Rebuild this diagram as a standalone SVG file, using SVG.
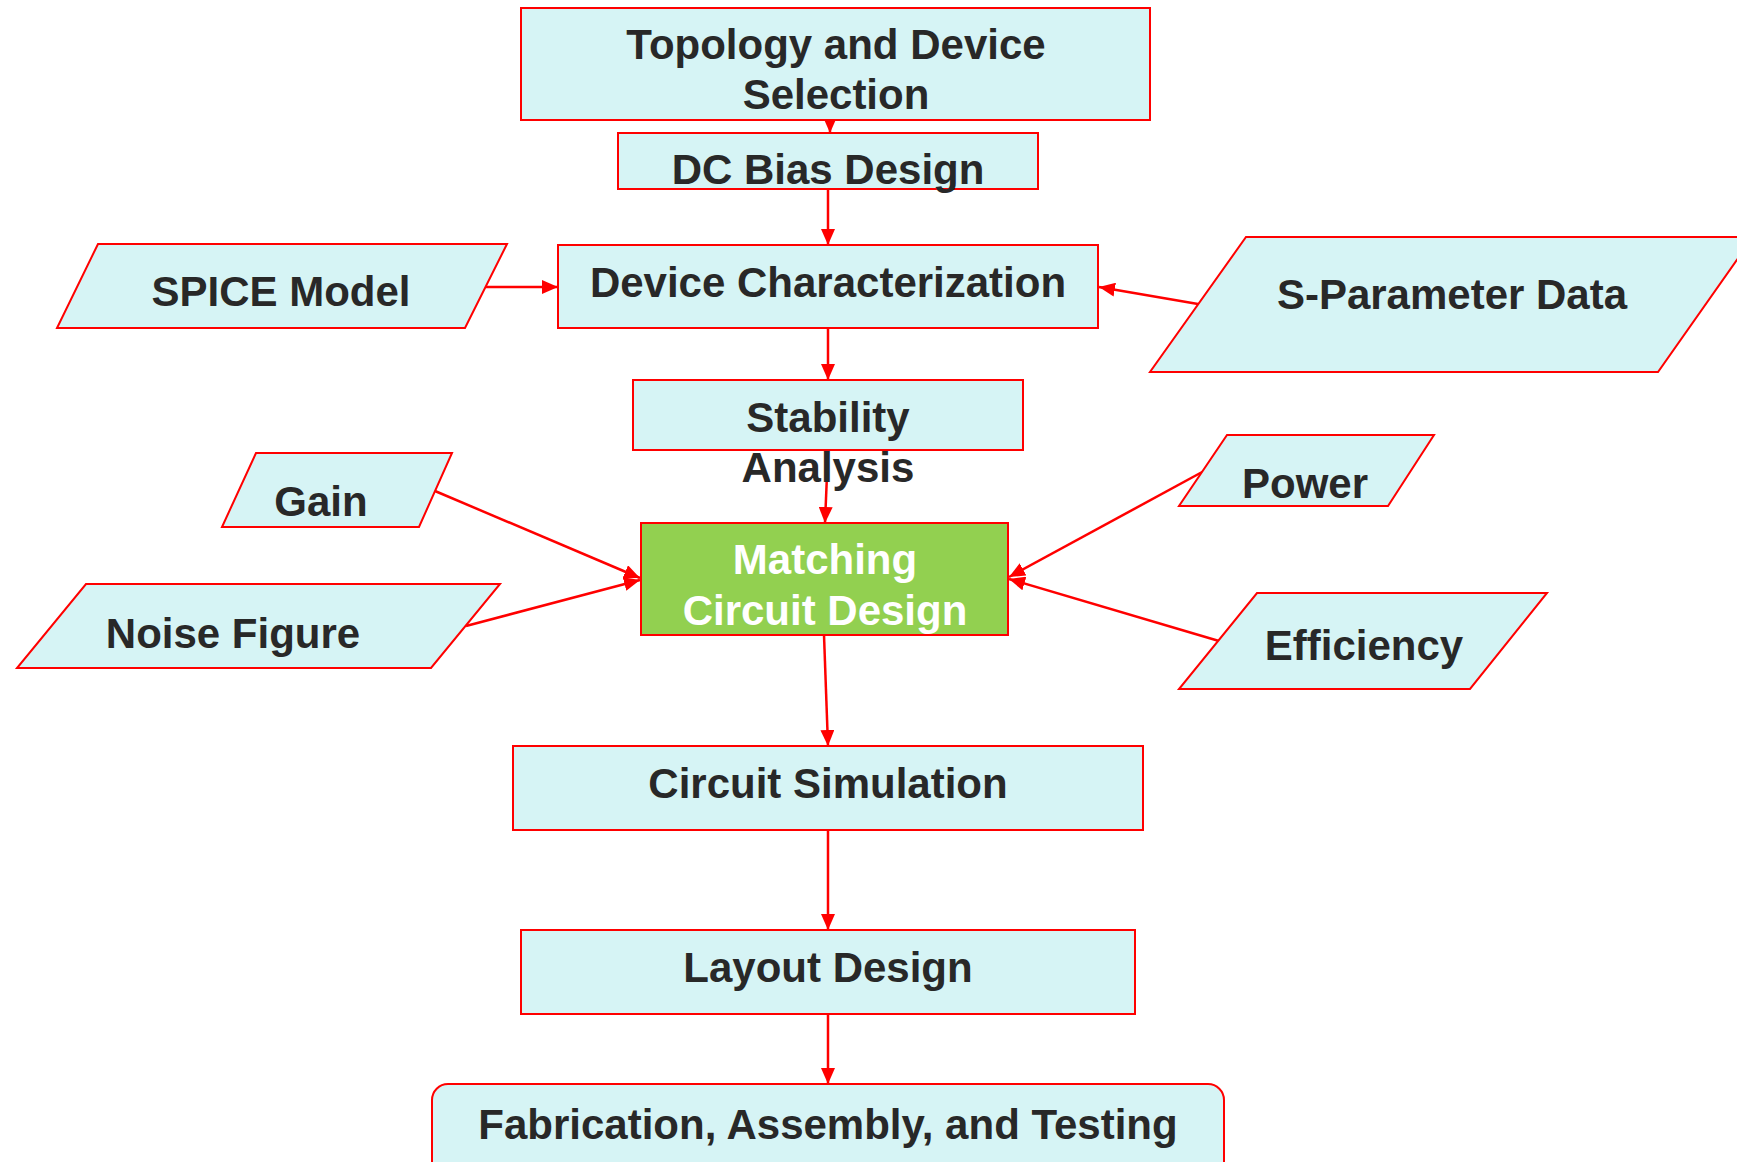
<svg xmlns="http://www.w3.org/2000/svg" width="1737" height="1162" viewBox="0 0 1737 1162">
<style>
.box{fill:#d6f4f5;stroke:#ff0000;stroke-width:2}
.green{fill:#92d050;stroke:#ff0000;stroke-width:2}
.t{font-family:"Liberation Sans",Arial,sans-serif;font-weight:bold;font-size:42px;fill:#282828;text-anchor:middle}
.w{fill:#ffffff}
.c{stroke:#ff0000;stroke-width:2.5;fill:none;marker-end:url(#ah)}
</style>
<defs>
<marker id="ah" markerUnits="userSpaceOnUse" markerWidth="16" markerHeight="14" refX="16" refY="7" orient="auto">
<path d="M0,0 L16,7 L0,14 z" fill="#ff0000"/>
</marker>
</defs>
<rect width="1737" height="1162" fill="#ffffff"/>
<g id="connectors">
<line class="c" x1="830" y1="116" x2="830" y2="133"/>
<line class="c" x1="828" y1="189" x2="828" y2="245"/>
<line class="c" x1="485" y1="287" x2="558" y2="287"/>
<line class="c" x1="1198" y1="304" x2="1099" y2="287"/>
<line class="c" x1="828" y1="328" x2="828" y2="380"/>
<line class="c" x1="828" y1="450" x2="825" y2="523"/>
<line class="c" x1="435" y1="491" x2="640" y2="578"/>
<line class="c" x1="466" y1="626" x2="640" y2="580"/>
<line class="c" x1="1204" y1="471" x2="1009" y2="577"/>
<line class="c" x1="1219" y1="641" x2="1009" y2="579"/>
<line class="c" x1="824" y1="635" x2="828" y2="746"/>
<line class="c" x1="828" y1="830" x2="828" y2="930"/>
<line class="c" x1="828" y1="1014" x2="828" y2="1084"/>
</g>
<g id="topology">
<rect class="box" x="521" y="8" width="629" height="112"/>
<text class="t" x="836" y="59">Topology and Device</text>
<text class="t" x="836" y="109">Selection</text>
</g>
<g id="dcbias">
<rect class="box" x="618" y="133" width="420" height="56"/>
<text class="t" x="828" y="184">DC Bias Design</text>
</g>
<g id="devchar">
<rect class="box" x="558" y="245" width="540" height="83"/>
<text class="t" x="828" y="297">Device Characterization</text>
</g>
<g id="spice">
<polygon class="box" points="98,244 507,244 465,328 57,328"/>
<text class="t" x="281" y="306">SPICE Model</text>
</g>
<g id="sparam">
<polygon class="box" points="1246,237 1753,237 1658,372 1150,372"/>
<text class="t" x="1452" y="309">S-Parameter Data</text>
</g>
<g id="stability">
<rect class="box" x="633" y="380" width="390" height="70"/>
<text class="t" x="828" y="432">Stability</text>
<text class="t" x="828" y="482">Analysis</text>
</g>
<g id="gain">
<polygon class="box" points="256,453 452,453 419,527 222,527"/>
<text class="t" x="321" y="516">Gain</text>
</g>
<g id="noise">
<polygon class="box" points="86,584 500,584 431,668 17,668"/>
<text class="t" x="233" y="648">Noise Figure</text>
</g>
<g id="power">
<polygon class="box" points="1227,435 1434,435 1388,506 1179,506"/>
<text class="t" x="1305" y="498">Power</text>
</g>
<g id="efficiency">
<polygon class="box" points="1257,593 1547,593 1470,689 1179,689"/>
<text class="t" x="1364" y="660">Efficiency</text>
</g>
<g id="matching">
<rect class="green" x="641" y="523" width="367" height="112"/>
<text class="t w" x="825" y="574">Matching</text>
<text class="t w" x="825" y="625">Circuit Design</text>
</g>
<g id="circuitsim">
<rect class="box" x="513" y="746" width="630" height="84"/>
<text class="t" x="828" y="798">Circuit Simulation</text>
</g>
<g id="layout">
<rect class="box" x="521" y="930" width="614" height="84"/>
<text class="t" x="828" y="982">Layout Design</text>
</g>
<g id="fabrication">
<rect class="box" x="432" y="1084" width="792" height="110" rx="16"/>
<text class="t" x="828" y="1139">Fabrication, Assembly, and Testing</text>
</g>
</svg>
